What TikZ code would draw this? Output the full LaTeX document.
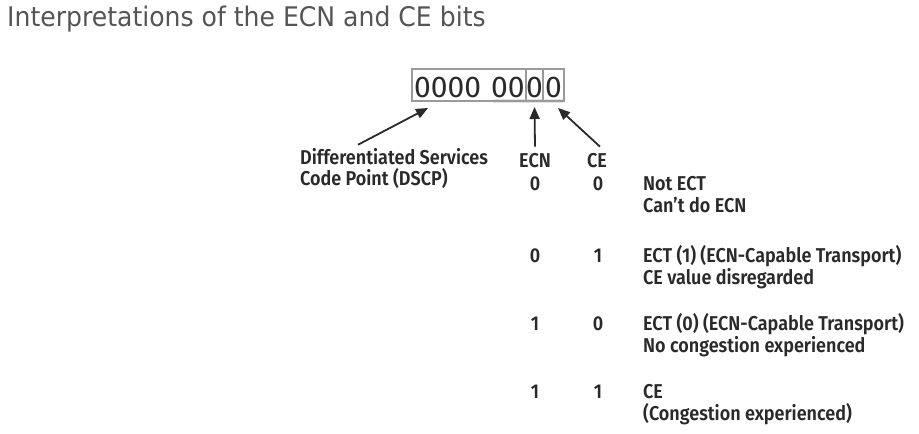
\documentclass[tikz,border=0pt]{standalone}
\usepackage{fontspec}
\setmainfont{Fira Sans}
\newfontfamily\titlefont[FakeStretch=0.93]{DejaVu Sans}
\newfontfamily\lblfont[FakeStretch=0.9]{Fira Sans SemiBold}
\newfontfamily\bitfont{Fira Sans}
\usetikzlibrary{arrows.meta,positioning,calc}
\definecolor{titlegray}{HTML}{555555}
\definecolor{inkgray}{HTML}{2A2A2A}
\definecolor{boxgray}{HTML}{9A9A9A}

\begin{document}
\begin{tikzpicture}[x=1pt, y=-1pt,
    lbl/.style={inner sep=0pt, anchor=base west, font=\lblfont\fontsize{20}{22}\selectfont, text=inkgray},
    bitval/.style={lbl, anchor=base},
    bitcell/.style={draw=boxgray, line width=1.3pt, inner sep=0pt, outer sep=0pt, minimum height=32pt, text height=24pt, text depth=0pt, font=\bitfont\fontsize{30}{31}\selectfont, text=inkgray},
    arr/.style={-{Triangle[length=12pt,width=10pt]}, line width=1.8pt, draw=inkgray}
  ]
  \fill[white] (0,0) rectangle (919,434);
  \useasboundingbox (0,0) rectangle (919,434);

  % title
  \node[anchor=base west, inner sep=0pt, font=\titlefont\fontsize{27}{30}\selectfont, text=titlegray] (title) at (7,26) {Interpretations of the ECN and CE bits};

  % the eight bits
  \fill[gray!20] (493,99) rectangle (563,102.5);
  \node[bitcell, minimum width=114pt, text width=111pt, align=right, anchor=north west] (dscpbits) at (412,69) {0000 00};
  \node[bitcell, minimum width=17pt, right=0pt of dscpbits] (ecnbit) {0};
  \node[bitcell, minimum width=21pt, right=0pt of ecnbit] (cebit) {0};

  % field names
  \node[lbl] (dscpa) at (300,164) {Differentiated Services};
  \node[lbl] (dscpb) at (300,185) {Code Point (DSCP)};
  \node[bitval] (ecnhead) at (535,167) {ECN};
  \node[bitval] (cehead) at (597,167) {CE};

  \draw[arr] ([shift={(58,-3)}]dscpa.north west) -- ([shift={(16,7)}]dscpbits.south west);
  \draw[arr] ([yshift=6pt]ecnhead.north) -- ([yshift=-6pt]ecnbit.south);
  \draw[arr] ([shift={(3,-6)}]cehead.north) -- ([shift={(4.5,7)}]cebit.south);

  % code points
  \foreach \ypos/\ecn/\ce/\linea/\lineb [count=\i] in {190/0/0/{Not ECT}/{Can’t do ECN},
      262/0/1/{ECT (1) (ECN-Capable Transport)}/{CE value disregarded},
      330/1/0/{ECT (0) (ECN-Capable Transport)}/{No congestion experienced},
      398/1/1/{CE}/{(Congestion experienced)}} {
    \node[bitval] (ecn\i) at (535,\ypos) {\ecn};
    \node[bitval] (ce\i) at (598,\ypos) {\ce};
    \node[lbl] (meaninga\i) at (643,\ypos) {\linea};
    \node[lbl] (meaningb\i) at (643,\ypos+22) {\lineb};
  }
\end{tikzpicture}
\end{document}
